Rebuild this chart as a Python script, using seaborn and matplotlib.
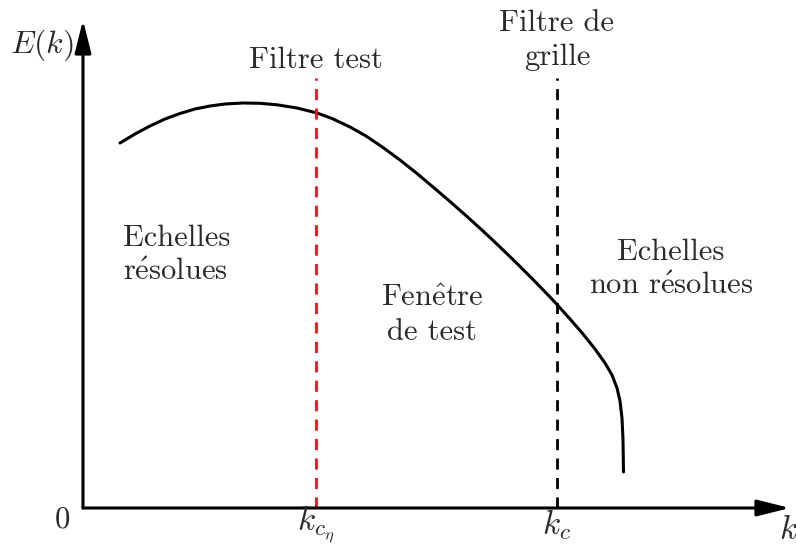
import matplotlib
matplotlib.use("Agg")
import matplotlib.pyplot as plt
import seaborn as sns
import pandas as pd

# spectrum curve E(k) (arbitrary units)
k_curve = [0.37, 0.52, 0.67, 0.82, 0.97, 1.12, 1.27, 1.42, 1.60, 1.77, 1.94, 2.14,
           2.34, 2.49, 2.67, 2.83, 3.00, 3.17, 3.34, 3.50, 3.67, 3.84, 4.00, 4.17,
           4.34, 4.50, 4.67, 4.74, 4.87, 5.00, 5.12, 5.22, 5.29, 5.34, 5.37, 5.39,
           5.40, 5.405]
E_curve = [3.65, 3.74, 3.82, 3.89, 3.945, 3.99, 4.02, 4.04, 4.05, 4.047, 4.032, 4.00,
           3.95, 3.895, 3.81, 3.72, 3.605, 3.48, 3.345, 3.21, 3.065, 2.915, 2.77, 2.61,
           2.445, 2.285, 2.11, 2.035, 1.89, 1.74, 1.59, 1.45, 1.33, 1.20, 1.07, 0.90,
           0.68, 0.36]

# filter cut-offs
k_test = 2.33
k_grid = 4.74
filter_top = 4.30

text_color = "#2a2a2a"

sns.set_style("white")
plt.rcParams['font.family'] = ['cmr10', 'DejaVu Serif']
plt.rcParams['mathtext.fontset'] = 'cm'
plt.rcParams['axes.unicode_minus'] = False

fig = plt.figure(figsize=(7.96, 5.49), dpi=100)
ax = fig.add_axes([0, 0, 1, 1])
ax.set_xlim(-0.83, 7.13)
ax.set_ylim(-0.41, 5.08)
ax.axis('off')

df = pd.DataFrame({"k": k_curve, "E": E_curve})
sns.lineplot(data=df, x="k", y="E", sort=False, color="black", lw=2.2, ax=ax)

# filters
ax.plot([k_test, k_test], [0, filter_top], color="#f01010", lw=2.0, ls=(0, (4, 3)))
ax.plot([k_grid, k_grid], [0, filter_top], color="black", lw=2.0, ls=(0, (4, 3)))

# axes arrows
arrow = dict(arrowstyle="-|>,head_length=1.0,head_width=0.25", lw=2.2,
             color="black", shrinkA=0, shrinkB=0, mutation_scale=20)
ax.annotate("", xy=(7.07, 0), xytext=(0, 0), arrowprops=arrow)
ax.annotate("", xy=(0, 4.88), xytext=(0, 0), arrowprops=arrow)

fs = 22
e_acute = r"$\acute{\mathrm{e}}$"
e_hat = r"$\hat{\mathrm{e}}$"

ax.text(-0.21, -0.12, "0", fontsize=fs, ha="center", va="center", color=text_color)
ax.text(k_test, -0.17, r"$k_{c_\eta}$", fontsize=fs + 2, ha="center", va="center", color=text_color)
ax.text(k_grid, -0.17, r"$k_c$", fontsize=fs + 2, ha="center", va="center", color=text_color)
ax.text(7.05, -0.22, r"$k$", fontsize=fs + 2, ha="center", va="center", color=text_color)
ax.text(-0.41, 4.63, r"$E(k)$", fontsize=fs + 1, ha="center", va="center", color=text_color)

ax.text(k_test, 4.48, "Filtre test", fontsize=fs, ha="center", va="center", color=text_color)
ax.text(k_grid, 4.68, "Filtre de\ngrille", fontsize=fs, ha="center", va="center",
        color=text_color, linespacing=1.3)
ax.text(0.40, 2.53, "Echelles\nr" + e_acute + "solues", fontsize=fs, ha="left", va="center",
        color=text_color, linespacing=1.3)
ax.text(3.49, 1.93, "Fen" + e_hat + "tre\nde test", fontsize=fs, ha="center", va="center",
        color=text_color, linespacing=1.3)
ax.text(5.88, 2.39, "Echelles\nnon r" + e_acute + "solues", fontsize=fs, ha="center", va="center",
        color=text_color, linespacing=1.3)

fig.savefig("out.png", dpi=100)
